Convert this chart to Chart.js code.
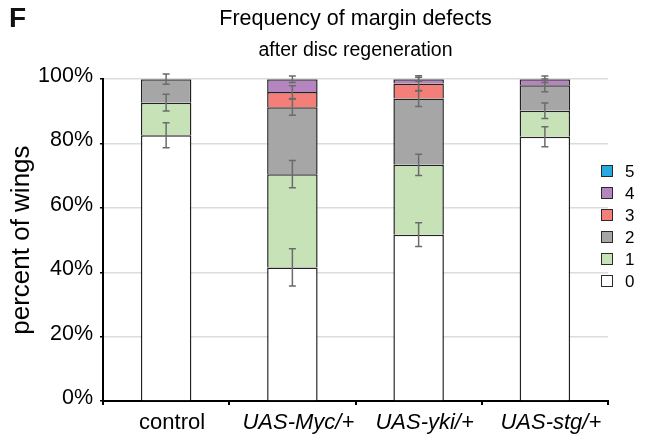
<!DOCTYPE html>
<html>
<head>
<meta charset="utf-8">
<script src="https://cdn.jsdelivr.net/npm/chart.js@4"></script>
<style>
  body { margin: 0; background: #fff; }
  #wrap { width: 646px; height: 440px; }
</style>
</head>
<body>
<div id="wrap"><canvas id="grafico"></canvas></div>
<script>
const genotypes = ["control", "UAS-Myc/+", "UAS-yki/+", "UAS-stg/+"]
const defectClasses = ["0", "1", "2", "3", "4", "5"]
const yTicks = [0, 20, 40, 60, 80, 100]

// percent of wings per class, one array per genotype order
const pct0 = [82.6, 41.5, 51.7, 82.1]
const pct1 = [10.1, 29.0, 21.7, 8.1]
const pct2 = [7.3, 20.8, 20.6, 7.9]
const pct3 = [0, 4.7, 4.7, 0]
const pct4 = [0, 4.0, 1.3, 1.9]
const pct5 = [0, 0, 0, 0]

// error (+/-) for each class
const err0 = [3.9, 5.8, 3.7, 3.1]
const err1 = [2.6, 4.2, 3.3, 2.4]
const err2 = [1.6, 2.5, 2.5, 2.0]
const err3 = [0, 2.0, 2.4, 0]
const err4 = [0, 1.0, 0.6, 1.0]
const err5 = [0, 0, 0, 0]

const cores = ["#ffffff", "#c8e2b8", "#a6a6a6", "#f47e78", "#b585bf", "#27aae1"]

const fonte = "'Liberation Sans', Arial, Helvetica, sans-serif"

const valores = [pct0, pct1, pct2, pct3, pct4, pct5]
const erros = [err0, err1, err2, err3, err4, err5]

const datasets = defectClasses.map(function (c, i) {
  return {
    label: c,
    data: valores[i].map(v => v > 0 ? v : null),
    backgroundColor: cores[i],
    borderColor: "#222",
    borderWidth: 1.5,
    borderSkipped: "start",
    barPercentage: 0.8,
    categoryPercentage: 0.5
  }
})

const barrasErro = {
  id: "barrasErro",
  afterDatasetsDraw(chart) {
    const ctx = chart.ctx
    const y = chart.scales.y
    ctx.save()
    ctx.strokeStyle = "#6b6b6b"
    ctx.lineWidth = 1.5
    for (let j = 0; j < genotypes.length; j++) {
      let acumulado = 0
      for (let i = 0; i < valores.length; i++) {
        acumulado += valores[i][j]
        if (valores[i][j] <= 0) continue
        const bar = chart.getDatasetMeta(i).data[j]
        const x = bar.x
        const yTop = y.getPixelForValue(acumulado + erros[i][j])
        const yBot = y.getPixelForValue(acumulado - erros[i][j])
        ctx.beginPath()
        ctx.moveTo(x, yTop); ctx.lineTo(x, yBot)
        ctx.moveTo(x - 3.5, yTop); ctx.lineTo(x + 3.5, yTop)
        ctx.moveTo(x - 3.5, yBot); ctx.lineTo(x + 3.5, yBot)
        ctx.stroke()
      }
    }
    ctx.restore()
  }
}

const legendaLateral = {
  id: "legendaLateral",
  afterDraw(chart) {
    const ctx = chart.ctx
    ctx.save()
    const ds = chart.data.datasets
    for (let k = 0; k < ds.length; k++) {
      const i = ds.length - 1 - k
      const yc = 171 + k * 22
      ctx.fillStyle = ds[i].backgroundColor
      ctx.fillRect(601.5, yc - 5.5, 11, 11)
      ctx.strokeStyle = "#2a2a2a"
      ctx.lineWidth = 1
      ctx.strokeRect(601.5, yc - 5.5, 11, 11)
      ctx.fillStyle = "#000"
      ctx.font = "17px " + fonte
      ctx.textBaseline = "middle"
      ctx.textAlign = "left"
      ctx.fillText(ds[i].label, 625, yc + 1)
    }
    ctx.font = "bold 28px " + fonte
    ctx.fillStyle = "#111"
    ctx.fillText("F", 9, 19)
    ctx.restore()
  }
}

const grafico = new Chart(document.getElementById("grafico"), {
  type: "bar",
  data: { labels: genotypes, datasets: datasets },
  options: {
    responsive: true,
    maintainAspectRatio: false,
    animation: false,
    layout: { padding: { top: 0, right: 38, bottom: 0, left: 0 } },
    plugins: {
      legend: { display: false },
      tooltip: { enabled: false },
      title: {
        display: true,
        text: "Frequency of margin defects",
        fullSize: false,
        color: "#000",
        font: { family: fonte, size: 21.5, weight: "normal" },
        padding: { top: 6, bottom: 0 }
      },
      subtitle: {
        display: true,
        text: "after disc regeneration",
        fullSize: false,
        color: "#000",
        font: { family: fonte, size: 19.5 },
        padding: { top: 7, bottom: 17 }
      }
    },
    scales: {
      x: {
        stacked: true,
        afterFit(scale) { scale.height = 39 },
        border: { color: "#000", width: 2 },
        grid: { display: true, drawOnChartArea: false, offset: true, tickLength: 4, tickColor: "#000", lineWidth: 2 },
        ticks: {
          color: "#000",
          padding: 5,
          labelOffset: 6,
          font: function (c) {
            return { family: fonte, size: 22, style: c.index === 0 ? "normal" : "italic" }
          }
        }
      },
      y: {
        stacked: true,
        min: 0,
        max: 100,
        afterFit(scale) { scale.width = 103 },
        afterBuildTicks(scale) { scale.ticks = yTicks.map(v => ({ value: v })) },
        border: { color: "#000", width: 2 },
        grid: { color: "#dcdcdc", lineWidth: 1.5, tickColor: "#000", tickLength: 3 },
        ticks: {
          color: "#000",
          padding: 7,
          labelOffset: -3,
          font: { family: fonte, size: 21.5 },
          callback: v => v + "%"
        },
        title: {
          display: true,
          text: "percent of wings",
          color: "#000",
          font: { family: fonte, size: 26 },
          padding: { top: 6, bottom: 0 }
        }
      }
    }
  },
  plugins: [barrasErro, legendaLateral]
})
</script>
</body>
</html>
